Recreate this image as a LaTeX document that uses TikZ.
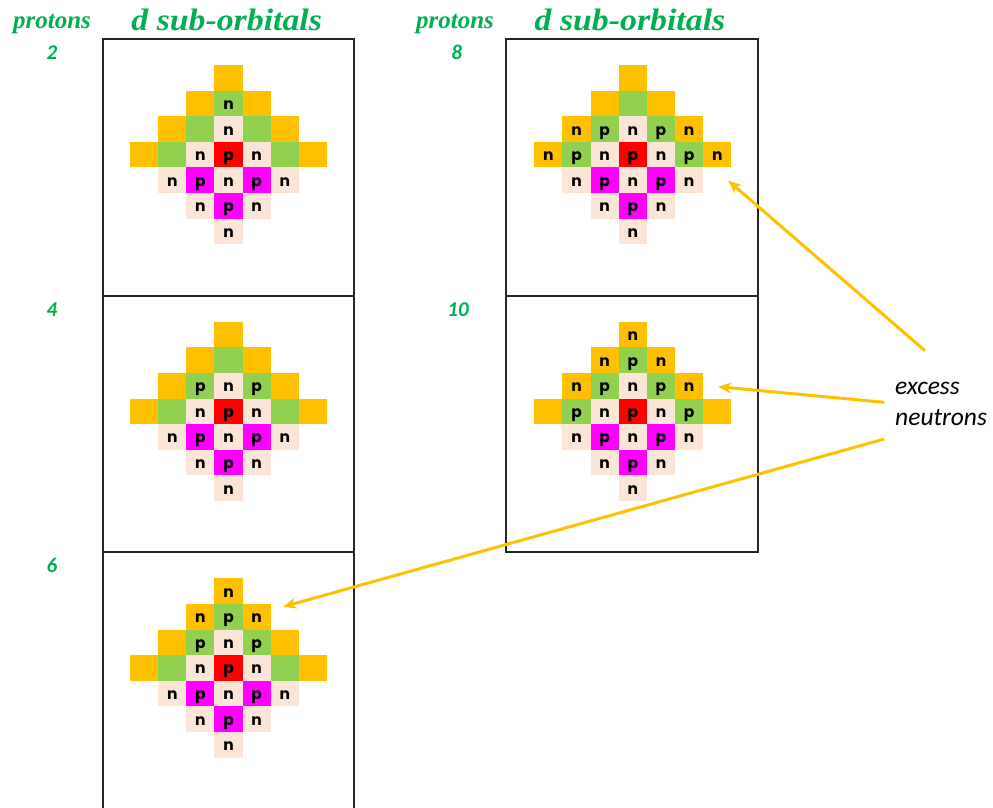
\documentclass[tikz,border=0pt]{standalone}
\usepackage{fontspec}
\setmainfont{Liberation Serif}
\newfontfamily\cellfont{Poppins}
\newfontfamily\calfont{Carlito}
\usetikzlibrary{arrows.meta}
\definecolor{og}{HTML}{00B050}
\definecolor{cyel}{HTML}{FFC000}
\definecolor{cgrn}{HTML}{92D050}
\definecolor{cpch}{HTML}{FBE5D6}
\definecolor{cred}{HTML}{FF0000}
\definecolor{cmag}{HTML}{FF00FF}
\tikzset{
  cell/.style={rectangle, inner sep=0pt, minimum width=28.15pt, minimum height=25.6pt, draw=none},
  lab/.style={font=\cellfont\bfseries\fontsize{15.5}{15.5}\selectfont, inner sep=0pt, text=black, anchor=base},
  ttl/.style={font=\fontsize{31}{31}\selectfont\bfseries\itshape, text=og, inner sep=0pt, anchor=base},
  prot/.style={font=\fontsize{25}{25}\selectfont\bfseries\itshape, text=og, inner sep=0pt, anchor=base},
  num/.style={font=\calfont\fontsize{21}{21}\selectfont\bfseries\itshape, text=og, inner sep=0pt, anchor=base},
  frame/.style={draw=black!85, line width=2pt},
  exarrow/.style={draw=cyel, line width=3pt, -{Stealth[length=13pt,width=11pt]}},
  extext/.style={font=\calfont\itshape\fontsize{25.5}{25.5}\selectfont, inner sep=0pt, anchor=base west},
}
\newcommand\dgrid[3]{%
  \foreach \r in {0,...,6}{%
    \foreach \c in {0,...,6}{%
      \pgfmathtruncatemacro\dd{abs(\r-3)+abs(\c-3)}%
      \ifnum\dd<4
        \ifnum\r>3
          \ifnum\dd=2 \def\col{cmag}\else\def\col{cpch}\fi
        \else
          \ifcase\dd \def\col{cred}\or\def\col{cpch}\or\def\col{cgrn}\or\def\col{cyel}\fi
        \fi
        \node[cell, fill=\col] (#1-\r-\c) at ({#2+28.15*(\c+0.5)},{#3+25.6*(\r+0.5)}) {};
      \fi
    }%
  }%
}
\newcommand\labs[2]{%
  \foreach \r/\c/\t in {#2}{%
    \node[lab] (#1-\r-\c-t) at ([yshift=-6pt]#1-\r-\c.center) {\t};
  }%
}
\newcommand\lowlabs[1]{\labs{#1}{3/3/p,4/1/n,4/2/p,4/3/n,4/4/p,4/5/n,5/2/n,5/3/p,5/4/n,6/3/n}}
\begin{document}
\begin{tikzpicture}[x=1pt,y=-1pt]
\useasboundingbox (0,0) rectangle (993,807);
% frames
\draw[frame] (103,39) rectangle (354,296);
\draw[frame] (103,296) rectangle (354,552);
\draw[frame] (103,812) -- (103,552) -- (354,552) -- (354,812);
\draw[frame] (506,39) rectangle (758,296);
\draw[frame] (506,296) rectangle (758,552);
% headers
\node[prot] (p1) at (52,28.5) {protons};
\node[prot] (p2) at (455,28.5) {protons};
\node[ttl] (t1) at (226.7,30.7) {\scalebox{1.09}[1]{d sub-orbitals}};
\node[ttl] (t2) at (630,30.7) {\scalebox{1.09}[1]{d sub-orbitals}};
\node[num] (n2) at (52,59) {2};
\node[num] (n4) at (52,316) {4};
\node[num] (n6) at (52,572) {6};
\node[num] (n8) at (456.7,59) {8};
\node[num] (n10) at (458,316) {10};
% grids
\dgrid{A}{130}{65}
\lowlabs{A}
\labs{A}{1/3/n,2/3/n,3/2/n,3/4/n}
\dgrid{B}{130}{321.7}
\lowlabs{B}
\labs{B}{2/2/p,2/3/n,2/4/p,3/2/n,3/4/n}
\dgrid{C}{130}{578.3}
\lowlabs{C}
\labs{C}{0/3/n,1/2/n,1/3/p,1/4/n,2/2/p,2/3/n,2/4/p,3/2/n,3/4/n}
\dgrid{D}{534.3}{65}
\lowlabs{D}
\labs{D}{2/1/n,2/2/p,2/3/n,2/4/p,2/5/n,3/0/n,3/1/p,3/2/n,3/4/n,3/5/p,3/6/n}
\dgrid{E}{534.3}{321.7}
\lowlabs{E}
\labs{E}{0/3/n,1/2/n,1/3/p,1/4/n,2/1/n,2/2/p,2/3/n,2/4/p,2/5/n,3/1/p,3/2/n,3/4/n,3/5/p}
% annotation
\node[extext] (ex) at (895,394.3) {excess};
\node[extext] (neu) at (895,425.7) {neutrons};
\coordinate (s1) at (925,350.7);
\coordinate (e1) at (728.3,180.7);
\coordinate (s2) at (884.3,402.3);
\coordinate (e2) at (718.3,386.7);
\coordinate (s3) at (884.3,439);
\coordinate (e3) at (283.3,606.7);
\draw[exarrow] (s1) -- (e1);
\draw[exarrow] (s2) -- (e2);
\draw[exarrow] (s3) -- (e3);
\end{tikzpicture}
\end{document}
